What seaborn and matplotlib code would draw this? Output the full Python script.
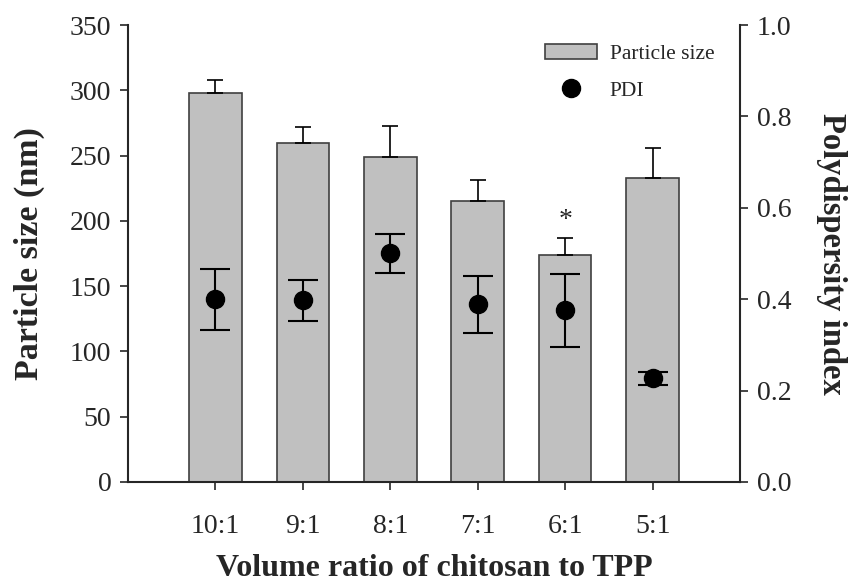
import matplotlib
matplotlib.use("Agg")
import matplotlib.pyplot as plt
import seaborn as sns
import pandas as pd
import numpy as np
from matplotlib.patches import Patch
from matplotlib.lines import Line2D

ratios = ["10:1", "9:1", "8:1", "7:1", "6:1", "5:1"]
size_nm = [298, 260, 249, 215, 174, 233]
size_err = [10, 12, 24, 16, 13, 23]
pdi = [0.400, 0.398, 0.500, 0.389, 0.376, 0.227]
pdi_err = [0.067, 0.045, 0.043, 0.062, 0.080, 0.014]

sns.set_style("ticks")
plt.rcParams['font.family'] = ['Liberation Serif', 'DejaVu Serif']
plt.rcParams['mathtext.fontset'] = 'stix'

df = pd.DataFrame({"ratio": ratios, "size": size_nm})

fig = plt.figure(figsize=(8.55, 5.87), dpi=100)
ax = fig.add_axes([0.1497, 0.1789, 0.8655 - 0.1497, 0.9574 - 0.1789])

sns.barplot(data=df, x="ratio", y="size", order=ratios, color="#c0c0c0",
            width=0.6, edgecolor="#404040", linewidth=1.2, saturation=1,
            errorbar=None, ax=ax)
xpos = np.arange(len(ratios))
ax.errorbar(xpos, size_nm, yerr=[np.zeros(len(ratios)), size_err], fmt="none",
            ecolor="black", elinewidth=1.2, capsize=6, capthick=1.2, zorder=3)

ax.set_xlim(-1, 6)
ax.set_ylim(0, 350)
ax.set_yticks(np.arange(0, 351, 50))
ax.set_xlabel("Volume ratio of chitosan to TPP", fontsize=23, fontweight="bold", labelpad=11)
ax.set_ylabel("Particle size (nm)", fontsize=24.5, fontweight="bold", labelpad=18)
ax.tick_params(axis="y", labelsize=20, direction="out", length=6, width=1.2, pad=6)
ax.tick_params(axis="x", labelsize=20, direction="out", length=6, width=1.2, pad=17)
for s in ["left", "bottom"]:
    ax.spines[s].set_linewidth(1.5)
ax.spines["top"].set_visible(False)
ax.spines["right"].set_visible(False)

ax2 = ax.twinx()
ax2.set_ylim(0, 1.0)
ax2.errorbar(xpos, pdi, yerr=pdi_err, fmt="o", color="black", markersize=13,
             ecolor="black", elinewidth=1.5, capsize=11, capthick=1.5, zorder=4)
ax2.set_yticks(np.arange(0, 1.01, 0.2))
ax2.set_yticklabels([f"{v:.1f}" for v in np.arange(0, 1.01, 0.2)])
ax2.tick_params(axis="y", labelsize=20, direction="out", length=6, width=1.2, pad=6)
ax2.set_ylabel("Polydispersity index", fontsize=23.5, fontweight="bold", rotation=270, labelpad=40)
ax2.spines["right"].set_linewidth(1.5)
ax2.spines["top"].set_visible(False)
ax2.spines["left"].set_visible(False)
ax2.spines["bottom"].set_visible(False)

ax.text(4, size_nm[4] + size_err[4] + 4, "*", ha="center", va="bottom", fontsize=20)

handles = [Patch(facecolor="#c0c0c0", edgecolor="#404040", linewidth=1.2, label="Particle size"),
           Line2D([], [], marker="o", color="black", linestyle="none", markersize=13, label="PDI")]
ax2.legend(handles=handles, loc="upper right", bbox_to_anchor=(0.99, 1.0), frameon=False,
           fontsize=15.5, handlelength=2.4, handletextpad=0.6, labelspacing=0.75)

fig.savefig("out.png", dpi=100)
